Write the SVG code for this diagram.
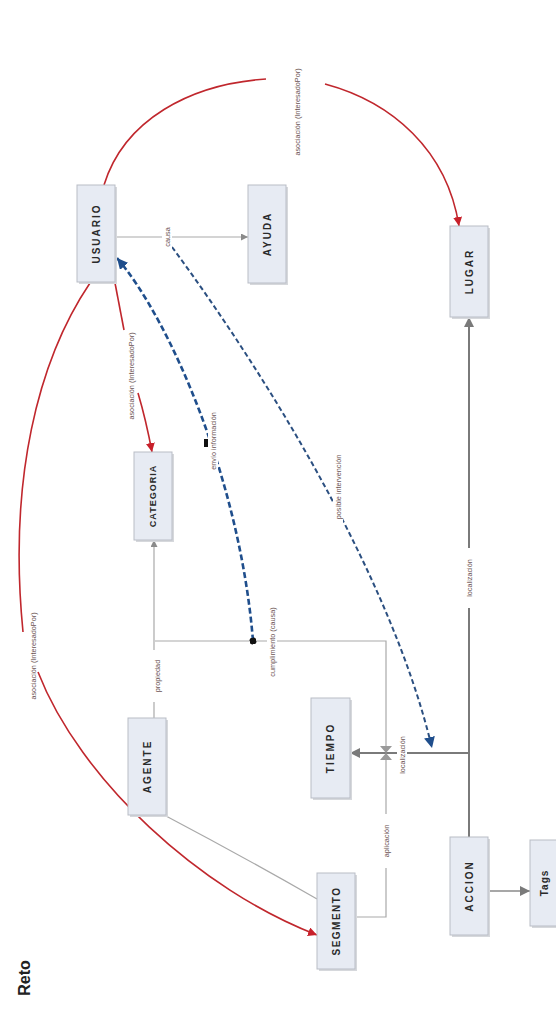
<svg xmlns="http://www.w3.org/2000/svg" width="556" height="1009" viewBox="0 0 556 1009">
<defs>
<style>
.node rect.box{fill:#e7ebf3;stroke:#b9bdc6;stroke-width:1}
.node rect.sh{fill:#d6d8dc}
.node text{font-family:"Liberation Sans",Arial,sans-serif;font-weight:bold;font-size:10px;letter-spacing:2px;fill:#2a2a2a}
.lbl{font-family:"Liberation Sans",Arial,sans-serif;font-size:7.3px;fill:#6a5252}
.lblbg{fill:#ffffff}
.g{fill:none;stroke:#a9a9a9;stroke-width:1.2}
.gt{fill:none;stroke:#7a7a7a;stroke-width:2}
.r{fill:none;stroke:#c0272d;stroke-width:1.6}
.b{fill:none;stroke:#1f4e8c;stroke-width:2.6;stroke-dasharray:6 3}
.b2{fill:none;stroke:#2b4f80;stroke-width:2;stroke-dasharray:5 3}
</style>
<marker id="ag" viewBox="0 0 10 10" refX="10" refY="5" markerWidth="7" markerHeight="7" orient="auto" markerUnits="userSpaceOnUse"><path d="M0,0 L10,5 L0,10 z" fill="#8a8a8a"/></marker>
<marker id="agt" viewBox="0 0 10 10" refX="10" refY="5" markerWidth="10" markerHeight="10" orient="auto" markerUnits="userSpaceOnUse"><path d="M0,0 L10,5 L0,10 z" fill="#7a7a7a"/></marker>
<marker id="ar" viewBox="0 0 10 10" refX="10" refY="5" markerWidth="9" markerHeight="9" orient="auto" markerUnits="userSpaceOnUse"><path d="M0,0 L10,5 L0,10 z" fill="#c8202a"/></marker>
<marker id="ab" viewBox="0 0 10 10" refX="10" refY="5" markerWidth="11" markerHeight="11" orient="auto" markerUnits="userSpaceOnUse"><path d="M0,0 L10,5 L0,10 z" fill="#1f4e8c"/></marker>
<marker id="ab2" viewBox="0 0 10 10" refX="0" refY="5" markerWidth="11" markerHeight="11" orient="auto" markerUnits="userSpaceOnUse"><path d="M10,0 L0,5 L10,10 z" fill="#1f4e8c"/></marker>
<marker id="dot" viewBox="0 0 10 10" refX="5" refY="5" markerWidth="7" markerHeight="7" orient="auto" markerUnits="userSpaceOnUse"><circle cx="5" cy="5" r="5" fill="#111"/></marker>
</defs>
<rect width="556" height="1009" fill="#ffffff"/>

<g id="connectors">
  <line class="g" x1="115" y1="237" x2="248" y2="237" marker-end="url(#ag)"/>
  <path class="r" d="M104,185 C124,120 190,84 266,79"/>
  <path class="r" d="M325,84 C392,102 447,150 459,226" marker-end="url(#ar)"/>
  <path class="r" d="M115,283 L124,330"/>
  <path class="r" d="M138,393 Q146,420 152,452" marker-end="url(#ar)"/>
  <path class="r" d="M90,283 C38,360 8,480 23,632"/>
  <path class="r" d="M38,672 C80,780 200,890 317,935" marker-end="url(#ar)"/>
  <line class="g" x1="154" y1="718" x2="154" y2="540" marker-end="url(#ag)"/>
  <polyline class="g" points="155,641 386,641 386,917 355,917"/>
  <path class="g" d="M166,816 Q240,855 317,899"/>
  <line class="gt" x1="469" y1="837" x2="469" y2="317" marker-end="url(#agt)"/>
  <line class="gt" x1="469" y1="753" x2="350" y2="753" marker-end="url(#agt)"/>
  <path d="M380,746 L392,746 L386,753 z M380,760 L392,760 L386,753 z" fill="#9a9a9a"/>
  <line class="gt" x1="488" y1="891" x2="530" y2="891" marker-end="url(#agt)" style="stroke:#8a8a8a;stroke-width:1.6"/>
  <path class="b" d="M117,258 C170,320 240,480 253,641" marker-start="url(#ab2)" marker-end="url(#dot)"/>
  <rect x="204" y="439" width="8" height="8" fill="#111"/>
  <path class="b2" d="M172,247 C270,380 392,580 432,748" marker-end="url(#ab)"/>

  <g class="lbl">
    <rect class="lblbg" x="162" y="221" width="10" height="32"/>
    <text transform="translate(167,237) rotate(-90)" text-anchor="middle" dominant-baseline="central">causa</text>
    <text transform="translate(297,112) rotate(-90)" text-anchor="middle" dominant-baseline="central">asociación (InteresadoPor)</text>
    <rect class="lblbg" x="126" y="328" width="10" height="96"/>
    <text transform="translate(131,376) rotate(-90)" text-anchor="middle" dominant-baseline="central">asociación (InteresadoPor)</text>
    <text transform="translate(33,656) rotate(-90)" text-anchor="middle" dominant-baseline="central">asociación (InteresadoPor)</text>
    <rect class="lblbg" x="208" y="402" width="10" height="78"/>
    <text transform="translate(213,441) rotate(-90)" text-anchor="middle" dominant-baseline="central">envío información</text>
    <rect class="lblbg" x="333" y="430" width="10" height="114"/>
    <text transform="translate(338,487) rotate(-90)" text-anchor="middle" dominant-baseline="central">posible  intervención</text>
    <rect class="lblbg" x="267" y="588" width="10" height="108"/>
    <text transform="translate(272,642) rotate(-90)" text-anchor="middle" dominant-baseline="central">cumplimiento (causa)</text>
    <rect class="lblbg" x="152" y="650" width="10" height="52"/>
    <text transform="translate(157,676) rotate(-90)" text-anchor="middle" dominant-baseline="central">propiedad</text>
    <rect class="lblbg" x="464" y="548" width="10" height="60"/>
    <text transform="translate(469,578) rotate(-90)" text-anchor="middle" dominant-baseline="central">localización</text>
    <rect class="lblbg" x="397" y="725" width="10" height="60"/>
    <text transform="translate(402,755) rotate(-90)" text-anchor="middle" dominant-baseline="central">localización</text>
    <rect class="lblbg" x="381" y="814" width="10" height="54"/>
    <text transform="translate(386,841) rotate(-90)" text-anchor="middle" dominant-baseline="central">aplicación</text>
  </g>
</g>

<g id="USUARIO" class="node"><rect class="sh" x="79" y="187" width="38" height="97"/><rect class="box" x="77" y="185" width="38" height="97"/><text transform="translate(96,233.5) rotate(-90)" text-anchor="middle" dominant-baseline="central">USUARIO</text></g>
<g id="AYUDA" class="node"><rect class="sh" x="250" y="187" width="38" height="98"/><rect class="box" x="248" y="185" width="38" height="98"/><text transform="translate(267,234) rotate(-90)" text-anchor="middle" dominant-baseline="central">AYUDA</text></g>
<g id="LUGAR" class="node"><rect class="sh" x="452" y="228" width="38" height="91"/><rect class="box" x="450" y="226" width="38" height="91"/><text transform="translate(469,271.5) rotate(-90)" text-anchor="middle" dominant-baseline="central">LUGAR</text></g>
<g id="CATEGORIA" class="node"><rect class="sh" x="136" y="454" width="38" height="88"/><rect class="box" x="134" y="452" width="38" height="88"/><text transform="translate(153,496) rotate(-90)" text-anchor="middle" dominant-baseline="central" style="font-size:9px;letter-spacing:1px">CATEGORIA</text></g>
<g id="AGENTE" class="node"><rect class="sh" x="130" y="720" width="38" height="97"/><rect class="box" x="128" y="718" width="38" height="97"/><text transform="translate(147,766.5) rotate(-90)" text-anchor="middle" dominant-baseline="central">AGENTE</text></g>
<g id="TIEMPO" class="node"><rect class="sh" x="313" y="700" width="39" height="100"/><rect class="box" x="311" y="698" width="39" height="100"/><text transform="translate(330.5,748) rotate(-90)" text-anchor="middle" dominant-baseline="central">TIEMPO</text></g>
<g id="SEGMENTO" class="node"><rect class="sh" x="319" y="875" width="38" height="96"/><rect class="box" x="317" y="873" width="38" height="96"/><text transform="translate(336,921) rotate(-90)" text-anchor="middle" dominant-baseline="central" style="letter-spacing:1.5px">SEGMENTO</text></g>
<g id="ACCION" class="node"><rect class="sh" x="452" y="839" width="38" height="98"/><rect class="box" x="450" y="837" width="38" height="98"/><text transform="translate(469,886) rotate(-90)" text-anchor="middle" dominant-baseline="central">ACCION</text></g>
<g id="Tags" class="node"><rect class="sh" x="532" y="842" width="30" height="86"/><rect class="box" x="530" y="840" width="30" height="86"/><text transform="translate(544,883) rotate(-90)" text-anchor="middle" dominant-baseline="central" style="letter-spacing:1px">Tags</text></g>

<text transform="translate(24,978) rotate(-90)" text-anchor="middle" dominant-baseline="central" style="font-family:'Liberation Sans',Arial,sans-serif;font-weight:bold;font-size:16px;fill:#222">Reto</text>
</svg>
